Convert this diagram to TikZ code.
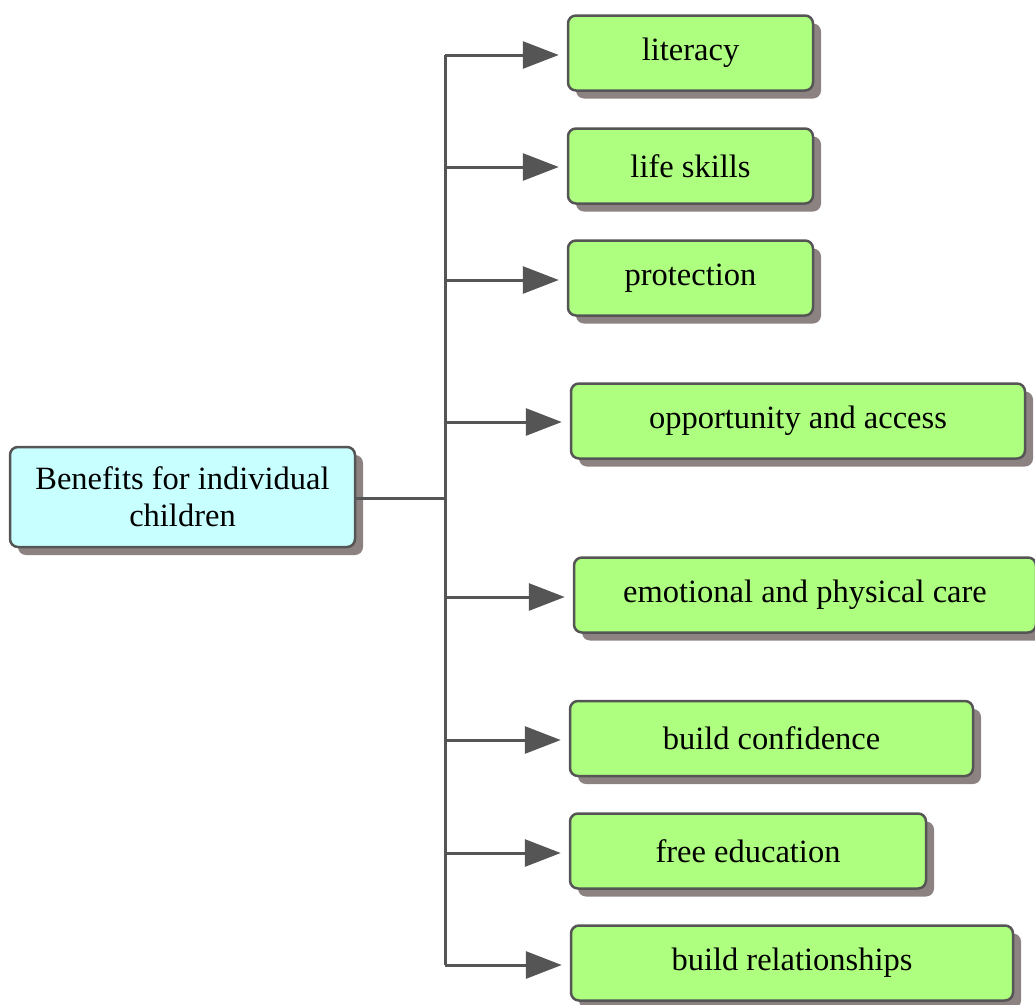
\documentclass[tikz,border=0pt]{standalone}
\usepackage{fontspec}
\setmainfont{Liberation Serif}
\usetikzlibrary{shadows,arrows.meta}
\definecolor{leafc}{HTML}{AEFF80}
\definecolor{rootc}{HTML}{C8FFFF}
\definecolor{edgec}{HTML}{555555}
\definecolor{shadc}{HTML}{8C8282}
\begin{document}
\begin{tikzpicture}[x=1pt,y=-1pt,
  boxbase/.style={draw=edgec, line width=2.5pt, rounded corners=8pt, anchor=center,
    inner sep=0pt, font=\fontsize{32.5}{37}\selectfont, text=black,
    drop shadow={shadow xshift=8pt, shadow yshift=-8pt, fill=shadc, opacity=1}},
  leaf/.style={boxbase, fill=leafc, minimum height=75pt},
  rootbox/.style={boxbase, fill=rootc, minimum height=100pt, minimum width=345pt, align=center},
  link/.style={draw=edgec, line width=3pt},
  arr/.style={link, -{Triangle[length=36pt,width=27pt]}, shorten >=8pt}]
\useasboundingbox (0,0) rectangle (1035,1004);
\node[rootbox] (root) at (182.5,497) {Benefits for individual\\children};
\node[leaf, minimum width=245pt] (n1) at (690.5,53) {literacy};
\node[leaf, minimum width=245pt] (n2) at (690.5,166) {life skills};
\node[leaf, minimum width=245pt] (n3) at (690.5,278) {protection};
\node[leaf, minimum width=454pt] (n4) at (798,421) {opportunity and access};
\node[leaf, minimum width=462pt] (n5) at (805,595) {emotional and physical care};
\node[leaf, minimum width=403pt] (n6) at (771.5,738.5) {build confidence};
\node[leaf, minimum width=356pt] (n7) at (748,851) {free education};
\node[leaf, minimum width=442pt] (n8) at (792,963) {build relationships};
\coordinate (j) at (445,498);
\coordinate (t1) at (445,55);
\coordinate (t8) at (445,965);
\draw[link] (root.east |- j) -- (j);
\draw[link] (t1) -- (t8);
\foreach \i/\y in {1/55,2/167,3/280,4/422,5/597,6/740,7/853,8/965}{
  \coordinate (b\i) at (445,\y);
  \draw[arr] (b\i) -- (n\i.west |- b\i);
}
\end{tikzpicture}
\end{document}
